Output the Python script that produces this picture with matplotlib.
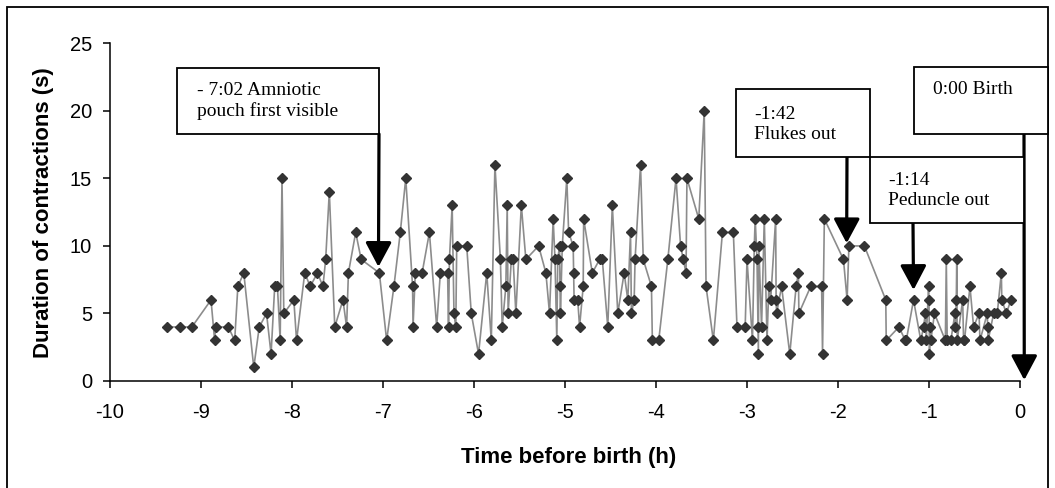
import matplotlib
matplotlib.use("Agg")
import matplotlib.pyplot as plt
from matplotlib.patches import Rectangle

plt.rcParams["axes.unicode_minus"] = False

# time before birth (h) and duration of contractions (s)
time_h = [
    -9.37, -9.235, -9.10, -8.89, -8.85, -8.84, -8.70, -8.63, -8.595, -8.53,
    -8.42, -8.36, -8.28, -8.23, -8.19, -8.16, -8.13, -8.11, -8.09, -7.98,
    -7.95, -7.86, -7.80, -7.72, -7.66, -7.63, -7.59, -7.53,
    -7.44, -7.40, -7.38, -7.30, -7.24, -7.04, -6.96, -6.88, -6.81, -6.75,
    -6.675, -6.67, -6.645, -6.57, -6.49, -6.41, -6.37, -6.29, -6.28, -6.27,
    -6.24, -6.22, -6.20, -6.19, -6.08, -6.03, -5.95, -5.86, -5.81, -5.77,
    -5.71, -5.69, -5.65, -5.635, -5.625, -5.59, -5.57, -5.54, -5.48, -5.43,
    -5.29, -5.21, -5.17, -5.13, -5.11, -5.09, -5.08, -5.06, -5.055, -5.05,
    -5.03, -4.98, -4.96, -4.91, -4.905, -4.90, -4.86, -4.84, -4.80, -4.795,
    -4.70, -4.62, -4.59, -4.53, -4.48, -4.42, -4.35, -4.31, -4.28, -4.27,
    -4.24, -4.23, -4.17, -4.14, -4.05, -4.04, -3.97, -3.87, -3.78, -3.73,
    -3.70, -3.67, -3.66, -3.53, -3.47, -3.45, -3.37,
    -3.27, -3.15, -3.11, -3.02, -3.00, -2.94, -2.92, -2.91, -2.89, -2.88,
    -2.875, -2.87, -2.84, -2.81, -2.78, -2.76, -2.74, -2.685, -2.68, -2.675,
    -2.62, -2.53, -2.46, -2.435, -2.43, -2.30, -2.18, -2.17, -2.15, -1.94,
    -1.90, -1.88, -1.71,
    -1.475, -1.47, -1.33, -1.26, -1.25, -1.17, -1.09, -1.06, -1.04, -1.03,
    -1.005, -1.00, -0.995, -0.985, -0.98, -0.94, -0.82, -0.81, -0.80, -0.76,
    -0.715, -0.71, -0.70, -0.695, -0.69, -0.63, -0.62, -0.61, -0.55, -0.51,
    -0.45, -0.44, -0.36, -0.355, -0.35, -0.29, -0.25, -0.205, -0.20, -0.15,
    -0.10,
]
duration_s = [
    4, 4, 4, 6, 3, 4, 4, 3, 7, 8,
    1, 4, 5, 2, 7, 7, 3, 15, 5, 6,
    3, 8, 7, 8, 7, 9, 14, 4,
    6, 4, 8, 11, 9, 8, 3, 7, 11, 15,
    7, 4, 8, 8, 11, 4, 8, 8, 4, 9,
    13, 5, 4, 10, 10, 5, 2, 8, 3, 16,
    9, 4, 7, 13, 5, 9, 9, 5, 13, 9,
    10, 8, 5, 12, 9, 3, 9, 10, 7, 5,
    10, 15, 11, 10, 8, 6, 6, 4, 7, 12,
    8, 9, 9, 4, 13, 5, 8, 6, 11, 5,
    6, 9, 16, 9, 7, 3, 3, 9, 15, 10,
    9, 8, 15, 12, 20, 7, 3,
    11, 11, 4, 4, 9, 3, 10, 12, 9, 4,
    2, 10, 4, 12, 3, 7, 6, 12, 6, 5,
    7, 2, 7, 8, 5, 7, 7, 2, 12, 9,
    6, 10, 10,
    6, 3, 4, 3, 3, 6, 3, 4, 5, 3,
    7, 6, 2, 4, 3, 5, 3, 9, 3, 3,
    5, 4, 6, 9, 3, 6, 3, 3, 7, 4,
    5, 3, 5, 4, 3, 5, 5, 8, 6, 5,
    6,
]

# annotations: text, box (left, top, right, bottom in px), text pos, arrow start px, arrow tip in data
notes = ["- 7:02 Amniotic\npouch first visible", "-1:42\nFlukes out",
         "-1:14\nPeduncle out", "0:00 Birth"]
boxes = [(177, 68, 379, 134), (736, 89, 870, 157), (870, 157, 1024, 223), (914, 67, 1048, 134)]
text_pos = [(197, 82), (754, 106), (888, 172), (933, 81)]
arrow_start = [(379, 134), (847, 157), (913, 223), (1024, 134)]
arrow_tip = [(-7.05, 8.45), (-1.905, 10.2), (-1.17, 6.74), (0.047, 0.07)]

W, H = 1055, 488
fig = plt.figure(figsize=(W / 100, H / 100), dpi=100)
ax = fig.add_axes([110 / W, 1 - 381 / H, (1020 - 110) / W, (381 - 43.3) / H])


def fx(x, y):
    return (x / W, 1 - y / H)


ax.plot(time_h, duration_s, color="#8c8c8c", lw=1.2, marker="D", ms=5.2,
        mfc="#333333", mec="#333333", zorder=3)

ax.set_xlim(-10, 0)
ax.set_ylim(0, 25)
ax.set_xticks(range(-10, 1))
ax.set_yticks(range(0, 26, 5))
ax.spines["top"].set_visible(False)
ax.spines["right"].set_visible(False)
for s in ["left", "bottom"]:
    ax.spines[s].set_linewidth(1.1)
ax.tick_params(direction="out", length=5, width=1.1, labelsize=14.5)
ax.tick_params(axis="x", pad=11)
ax.tick_params(axis="y", pad=8)
for lab in ax.get_xticklabels() + ax.get_yticklabels():
    lab.set_family("Liberation Sans")

fig.text(569 / W, 1 - 457 / H, "Time before birth (h)", ha="center", va="center",
         fontsize=16, fontweight="bold", family="Liberation Sans")
fig.text(44 / W, 1 - 213 / H, "Duration of contractions (s)", ha="center", va="center",
         rotation=90, fontsize=16, fontweight="bold", family="Liberation Sans")

# outer frame
fig.patches.append(Rectangle(fx(7, 520), (1048 - 7) / W, (520 - 7) / H, transform=fig.transFigure,
                             fill=False, lw=1.3, ec="black"))

for i in range(len(notes)):
    l, t, r, b = boxes[i]
    fig.patches.append(Rectangle(fx(l, b), (r - l) / W, (b - t) / H, transform=fig.transFigure,
                                 facecolor="white", ec="black", lw=1.3, zorder=5))
    tx, ty = text_pos[i]
    fig.text(tx / W, 1 - ty / H, notes[i], ha="left", va="top", fontsize=14,
             family="Liberation Serif", linespacing=1.25, zorder=6)
    ax.annotate("", xy=arrow_tip[i], xycoords="data",
                xytext=fx(*arrow_start[i]), textcoords="figure fraction",
                arrowprops=dict(arrowstyle="-|>,head_length=0.75,head_width=0.4",
                                mutation_scale=20, lw=2.3, color="black",
                                shrinkA=0, shrinkB=0),
                annotation_clip=False, zorder=7)

fig.savefig("out.png", dpi=100)
